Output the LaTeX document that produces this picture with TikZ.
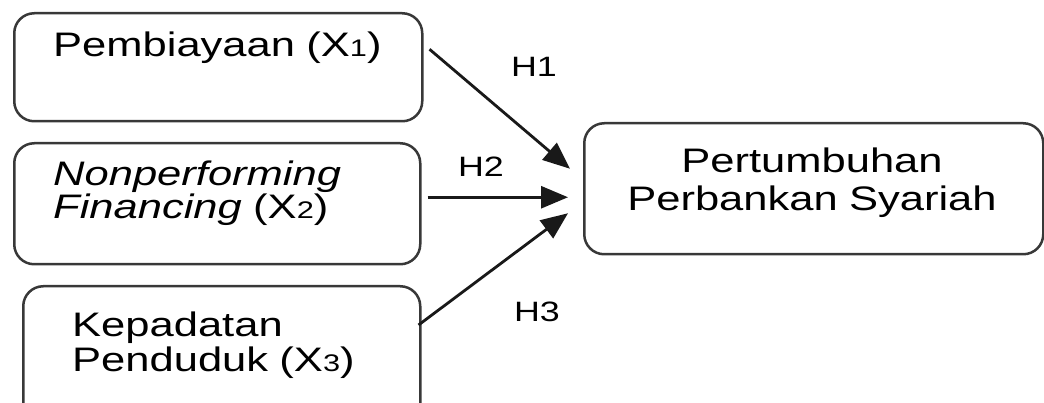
\documentclass[tikz,border=0pt]{standalone}
\usepackage{fontspec}
\setmainfont{Liberation Sans}[FakeStretch=1.28]
\usetikzlibrary{arrows.meta}
\newcommand{\subdig}[1]{{\fontsize{24}{24}\selectfont #1}}
\tikzset{
  box/.style={draw=black!78, line width=2.5pt, rounded corners=20pt, inner sep=0pt, anchor=north west},
  txt/.style={inner sep=0pt, text width=380pt, align=left, anchor=base west},
  hlab/.style={inner sep=0pt, font=\fontsize{28}{30}\selectfont},
  arr/.style={line width=2.8pt, draw=black!90, -{Triangle[length=27pt,width=22pt]}}
}
\begin{document}
\begin{tikzpicture}[x=1pt,y=-1pt]
\clip (0,0) rectangle (1044,403);
% boxes
\node[box, minimum width=408pt, minimum height=108pt] (b1) at (13,12) {};
\node[box, minimum width=406pt, minimum height=121pt] (b2) at (13,142) {};
\node[box, minimum width=397pt, minimum height=140pt] (b3) at (22,285) {};
\node[box, minimum width=459pt, minimum height=131pt] (t) at (583,122) {};
% texts
\node[txt, font=\fontsize{34}{33}\selectfont] (l1) at (53,57) {Pembiayaan (X\subdig{1})};
\node[txt, font=\fontsize{34}{33}\selectfont] (l2) at (53,186) {\itshape Nonperforming\\\itshape Financing\upshape{} (X\subdig{2})};
\node[txt, font=\fontsize{34}{35}\selectfont] (l3) at (72,337) {Kepadatan\\Penduduk (X\subdig{3})};
\node[inner sep=0pt, text width=440pt, align=center, anchor=base, font=\fontsize{34}{38}\selectfont] (lt) at (812,173) {Pertumbuhan\\Perbankan Syariah};
% arrows
\draw[arr] ([xshift=6pt,yshift=18pt]b1.east) -- ([xshift=-13pt,yshift=20pt]t.west);
\draw[arr] ([xshift=6pt,yshift=6.5pt]b2.east) -- ([xshift=-15pt,yshift=-8.5pt]t.west);
\draw[arr] ([xshift=-3pt,yshift=-40pt]b3.north east) -- ([xshift=-15pt,yshift=-24.5pt]t.west);
% labels
\node[hlab] (h1) at (534,67) {H1};
\node[hlab] (h2) at (481,167) {H2};
\node[hlab] (h3) at (537,312) {H3};
\end{tikzpicture}
\end{document}
